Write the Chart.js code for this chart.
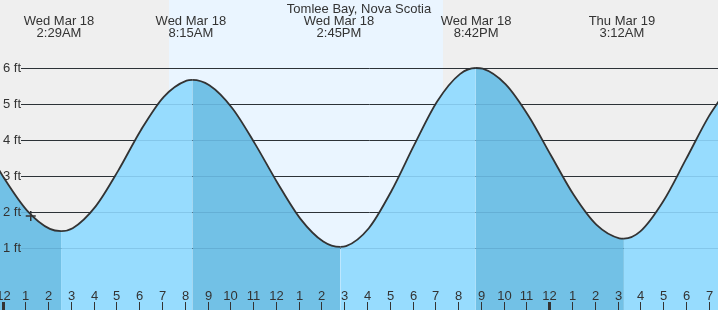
<!DOCTYPE html>
<html>
<head>
<meta charset="utf-8">
<title>Tomlee Bay tide</title>
<script src="https://cdn.jsdelivr.net/npm/chart.js@4/dist/chart.umd.min.js"></script>
<style>
    body { margin: 0; background: #efefef; }
    canvas { display: block; }
</style>
</head>
<body>
<canvas id="tideChart" width="718" height="310"></canvas>
<script>
// hours from Wed Mar 18 00:00, tide height in feet
const curveHours = [-0.4, 0.08, 1.08, 2.08, 2.57, 3.08, 4.08, 5.08, 6.08, 7.08, 8.08, 8.33,
    9.08, 10.08, 11.08, 12.08, 13.08, 14.08, 14.83, 15.08, 16.08, 17.08, 18.08, 19.08, 20.08, 20.78,
    21.08, 22.08, 23.08, 24.08, 25.08, 26.08, 27.08, 27.28, 28, 29, 30, 31, 31.5];
const tideFeet = [3.44, 2.93, 2.04, 1.53, 1.47, 1.55, 2.15, 3.15, 4.28, 5.20, 5.65, 5.67,
    5.52, 4.89, 3.90, 2.80, 1.81, 1.18, 1.03, 1.05, 1.55, 2.59, 3.87, 5.07, 5.83, 6.00,
    5.98, 5.55, 4.68, 3.57, 2.47, 1.64, 1.27, 1.26, 1.46, 2.29, 3.46, 4.65, 5.13];

// high / low labels along the top
const extremeHours = [2.48, 8.27, 14.77, 20.79, 27.19];
const extremeDays = ['Wed Mar 18', 'Wed Mar 18', 'Wed Mar 18', 'Wed Mar 18', 'Thu Mar 19'];
const extremeTimes = ['2:29AM', '8:15AM', '2:45PM', '8:42PM', '3:12AM'];

const daylight = [7.31, 19.34];
const nowPoint = { x: 1.24, y: 1.89 };

const yTicks = [1, 2, 3, 4, 5, 6];
const hourLabels = ['12', '1', '2', '3', '4', '5', '6', '7', '8', '9', '10', '11',
    '12', '1', '2', '3', '4', '5', '6', '7', '8', '9', '10', '11',
    '12', '1', '2', '3', '4', '5', '6', '7'];
const midnightHours = [0, 24];

const title = 'Tomlee Bay, Nova Scotia';

const textColor = '#333333';
const lightFill = '#97dcfe';
const darkFill = '#72c1e6';
const fontFamily = '"Liberation Sans", Arial, sans-serif';

function drawGrid(ctx, chart, color) {
    const y = chart.scales.y;
    ctx.strokeStyle = color;
    ctx.lineWidth = 1;
    yTicks.forEach(function (v) {
        const py = Math.round(y.getPixelForValue(v)) + 0.5;
        ctx.beginPath();
        ctx.moveTo(21, py);
        ctx.lineTo(chart.chartArea.right, py);
        ctx.stroke();
    });
}

const tidePlugin = {
    id: 'tidePlugin',
    beforeDatasetsDraw(chart) {
        const ctx = chart.ctx;
        const x = chart.scales.x;
        const area = chart.chartArea;
        ctx.save();
        // daylight band
        ctx.fillStyle = '#eaf5ff';
        const x0 = x.getPixelForValue(daylight[0]);
        const x1 = x.getPixelForValue(daylight[1]);
        ctx.fillRect(x0, area.top, x1 - x0, area.bottom - area.top);
        drawGrid(ctx, chart, '#333333');
        ctx.restore();
    },
    afterDatasetsDraw(chart) {
        const ctx = chart.ctx;
        const x = chart.scales.x;
        const y = chart.scales.y;
        const area = chart.chartArea;
        ctx.save();
        // faint grid lines over the water
        drawGrid(ctx, chart, 'rgba(0, 50, 90, 0.12)');

        ctx.fillStyle = textColor;
        ctx.font = '13px ' + fontFamily;

        // feet labels
        ctx.textAlign = 'left';
        ctx.textBaseline = 'middle';
        yTicks.forEach(function (v) {
            ctx.fillText(v + ' ft', 3, y.getPixelForValue(v));
        });

        // hour ticks and labels
        ctx.textAlign = 'center';
        ctx.textBaseline = 'alphabetic';
        for (let h = 0; h < hourLabels.length; h++) {
            const px = Math.round(x.getPixelForValue(h));
            if (midnightHours.indexOf(h) >= 0) {
                ctx.fillRect(px - 1, 302, 3, 8);
            } else {
                ctx.fillRect(px, 302, 1, 8);
            }
            ctx.fillText(hourLabels[h], px + 0.5, 300);
        }

        // title and high/low labels
        ctx.fillText(title, area.left + (area.right - area.left) / 2, 12.5);
        for (let i = 0; i < extremeHours.length; i++) {
            const px = x.getPixelForValue(extremeHours[i]);
            ctx.fillText(extremeDays[i], px, 24.5);
            ctx.fillText(extremeTimes[i], px, 36.5);
        }
        ctx.restore();
    }
};

const tidePoints = curveHours.map(function (h, i) {
    return { x: h, y: tideFeet[i] };
});

const config = {
    type: 'line',
    data: {
        datasets: [
            {
                label: 'now',
                data: [nowPoint],
                showLine: false,
                pointStyle: 'cross',
                pointRadius: 5,
                pointBorderWidth: 1.5,
                borderColor: '#333333',
                backgroundColor: '#333333'
            },
            {
                label: 'tide',
                data: tidePoints,
                borderColor: '#333333',
                borderWidth: 1.8,
                pointRadius: 0,
                cubicInterpolationMode: 'monotone',
                fill: 'start',
                backgroundColor: lightFill,
                segment: {
                    backgroundColor: function (ctx) {
                        return ctx.p1.parsed.y < ctx.p0.parsed.y ? darkFill : lightFill;
                    }
                }
            }
        ]
    },
    options: {
        responsive: false,
        animation: false,
        layout: { padding: 0, autoPadding: false },
        plugins: {
            legend: { display: false },
            tooltip: { enabled: false }
        },
        scales: {
            x: {
                type: 'linear',
                min: -0.11,
                max: 31.41,
                display: false
            },
            y: {
                min: -0.722,
                max: 7.889,
                display: false
            }
        }
    },
    plugins: [tidePlugin]
};

new Chart(document.getElementById('tideChart'), config);
</script>
</body>
</html>
